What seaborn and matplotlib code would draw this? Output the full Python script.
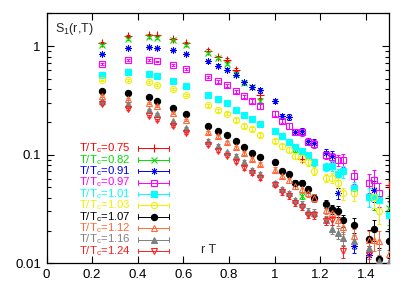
import numpy as np
import pandas as pd
import matplotlib
matplotlib.use("Agg")
import matplotlib.pyplot as plt
import seaborn as sns

nan = np.nan

# r*T positions of the measured points
rT = [0.245, 0.356, 0.447, 0.483, 0.555, 0.612, 0.707, 0.75, 0.79, 0.829,
      0.866, 0.901, 0.935, 1.0, 1.031, 1.061, 1.09, 1.118, 1.146, 1.173,
      1.225, 1.25, 1.275, 1.299, 1.346, 1.414, 1.436, 1.458, 1.5]

# approximate relative errors per r*T
rel_err = [0.02, 0.02, 0.02, 0.02, 0.02, 0.025, 0.03, 0.03, 0.03, 0.035,
           0.04, 0.04, 0.045, 0.05, 0.05, 0.06, 0.06, 0.07, 0.07, 0.08,
           0.09, 0.1, 0.12, 0.13, 0.15, 0.2, 0.22, 0.25, 0.3]

labels = ["0.75", "0.82", "0.91", "0.97", "1.01", "1.03", "1.07", "1.12", "1.16", "1.24"]

S_075 = [1.06, 1.23, 1.26, 1.25, 1.17, 1.066, 0.905, 0.791, 0.748, 0.605,
         nan, nan, 0.351, nan, nan, nan, nan, 0.092, nan, nan,
         nan, nan, nan, nan, nan, nan, nan, nan, 0.053]
S_082 = [1.02, 1.16, 1.20, 1.185, 1.13, 1.03, 0.862, 0.775, 0.687, 0.555,
         0.46, 0.42, 0.309, nan, nan, nan, 0.113, 0.042, nan, nan,
         nan, nan, nan, nan, nan, nan, 0.040, nan, 0.032]
S_091 = [0.84, 0.95, 0.979, 0.958, 0.911, 0.844, 0.721, 0.658, 0.605, 0.544,
         0.462, 0.419, 0.39, 0.313, 0.226, 0.222, 0.163, 0.165, 0.134, 0.128,
         0.103, 0.098, 0.044, nan, 0.0145, 0.012, 0.047, nan, nan]
S_097 = [0.687, 0.748, 0.748, 0.721, 0.672, 0.618, 0.518, 0.472, 0.434, 0.382,
         0.343, 0.313, 0.278, 0.238, 0.206, 0.185, 0.163, 0.16, 0.132, 0.126,
         0.0996, 0.095, 0.0886, 0.089, 0.063, 0.055, 0.059, 0.044, nan]
S_101 = [0.544, 0.576, 0.555, 0.525, 0.479, 0.431, 0.356, 0.322, 0.296, 0.259,
         0.233, 0.214, 0.191, 0.166, 0.147, 0.132, 0.117, 0.107, 0.0996, 0.085,
         0.077, 0.079, 0.066, 0.07, 0.049, 0.041, 0.041, 0.038, 0.028]
S_103 = [0.482, 0.489, 0.469, 0.44, 0.401, 0.353, 0.286, 0.257, 0.238, 0.209,
         0.185, 0.172, 0.152, 0.134, 0.119, 0.111, 0.098, 0.093, 0.085, 0.071,
         0.061, 0.061, 0.055, 0.044, 0.044, nan, 0.041, 0.0305, nan]
S_107 = [0.385, 0.369, 0.336, 0.309, 0.271, 0.236, 0.185, 0.166, 0.152, 0.134,
         0.117, 0.103, 0.095, 0.085, 0.071, 0.066, 0.055, 0.055, 0.048, 0.040,
         0.0354, 0.0316, 0.030, 0.0248, 0.0225, 0.0168, 0.0205, 0.011, 0.0159]
S_112 = [0.347, 0.327, 0.298, 0.278, 0.241, 0.209, 0.161, 0.147, 0.130, 0.117,
         0.103, 0.092, 0.082, 0.073, 0.064, 0.058, 0.051, 0.048, 0.044, 0.040,
         0.031, 0.029, 0.025, 0.0215, 0.018, 0.0165, 0.0165, 0.016, 0.0123]
S_116 = [0.313, 0.292, 0.257, 0.236, 0.202, 0.176, 0.134, 0.121, 0.106, 0.098,
         0.085, 0.073, 0.066, 0.055, 0.048, 0.044, 0.038, 0.035, 0.030, 0.029,
         0.025, 0.0205, 0.019, 0.017, 0.016, 0.0137, nan, 0.0105, 0.0103]
S_124 = [0.29, 0.262, 0.229, 0.209, 0.182, 0.158, 0.124, 0.109, 0.098, 0.086,
         0.075, 0.068, 0.061, 0.053, 0.045, 0.042, 0.036, 0.033, 0.028, 0.028,
         0.0245, 0.025, nan, 0.0129, nan, 0.012, nan, nan, nan]

series = [S_075, S_082, S_091, S_097, S_101, S_103, S_107, S_112, S_116, S_124]

colors = ["#ff0000", "#00e000", "#0000ff", "#ff00ff", "#00ffff", "#f0f000",
          "#000000", "#ff6a35", "#808080", "#ff2020"]
markers = ["+", "x", (8, 2, 0), "s", "s", "o", "o", "^", "^", "v"]
filled = [True, True, True, False, True, False, True, False, True, False]
msizes = [5.5, 4.5, 5, 4.5, 4.5, 4.5, 4.5, 4.5, 4.5, 4.5]
mew = [0.8, 0.8, 0.6, 0.8, 0.8, 0.8, 0.8, 0.8, 0.8, 0.8]

rows = []
for lab, vals in zip(labels, series):
    for x, v, e in zip(rT, vals, rel_err):
        if not np.isnan(v):
            rows.append({"T": lab, "rT": x, "S": v, "err": v * e})
df = pd.DataFrame(rows)

sns.set_style("ticks")
plt.rcParams["font.family"] = ["Liberation Sans", "DejaVu Sans"]
plt.rcParams["mathtext.default"] = "regular"

fig = plt.figure(figsize=(4.09, 2.86), dpi=100)
ax = fig.add_axes([46.5 / 409, 1 - 263.3 / 286, 342.5 / 409, 250 / 286])

for i, lab in enumerate(labels):
    sub = df[df["T"] == lab]
    c = colors[i]
    ax.errorbar(sub["rT"], sub["S"], yerr=sub["err"], fmt="none", ecolor=c,
                elinewidth=0.7, capsize=1.5, capthick=0.7, zorder=2)
    ax.plot(sub["rT"], sub["S"], linestyle="none", marker=markers[i],
            markersize=msizes[i], color=c,
            markerfacecolor=c if filled[i] else "none",
            markeredgecolor=c, markeredgewidth=mew[i], zorder=3)

ax.set_yscale("log")
ax.set_xlim(0, 1.5)
ax.set_ylim(0.01, 2.0)
ax.set_xticks([0, 0.2, 0.4, 0.6, 0.8, 1.0, 1.2, 1.4])
ax.set_xticklabels(["0", "0.2", "0.4", "0.6", "0.8", "1", "1.2", "1.4"])
ax.set_yticks([0.01, 0.1, 1])
ax.set_yticklabels(["0.01", "0.1", "1"])
ax.yaxis.set_minor_locator(matplotlib.ticker.LogLocator(base=10, subs=np.arange(2, 10)))
ax.yaxis.set_minor_formatter(matplotlib.ticker.NullFormatter())
ax.tick_params(which="both", direction="in", top=True, right=True,
               labelsize=9.5, width=0.8, colors="black", pad=4)
ax.tick_params(which="major", length=5)
ax.tick_params(which="minor", length=3)
for sp in ax.spines.values():
    sp.set_linewidth(0.9)
    sp.set_color("black")
ax.set_xlabel("")
ax.set_ylabel("")

ax.text(0.025, 0.937, "S$_1$(r,T)", transform=ax.transAxes, fontsize=9,
        ha="left", va="center")
ax.text(0.474, 0.052, "r T", transform=ax.transAxes, fontsize=9,
        ha="center", va="center")

# gnuplot-style key
tr = ax.transAxes
x_lab, x0, x1, xm = 0.247, 0.268, 0.358, 0.3125
for i, lab in enumerate(labels):
    y = 0.46 - 0.0456 * i
    c = colors[i]
    ax.text(x_lab, y, "T/T$_c$=" + lab, transform=tr, color=c, fontsize=8.2,
            ha="right", va="center")
    ax.plot([x0, x1], [y, y], transform=tr, color=c, lw=0.7, clip_on=False)
    for xe in (x0, x1):
        ax.plot([xe, xe], [y - 0.009, y + 0.009], transform=tr, color=c, lw=0.7,
                clip_on=False)
    ax.plot([xm], [y], transform=tr, linestyle="none", marker=markers[i],
            markersize=msizes[i], color=c,
            markerfacecolor=c if filled[i] else "none", markeredgecolor=c,
            markeredgewidth=mew[i], clip_on=False)

fig.savefig("out.png", dpi=100)
